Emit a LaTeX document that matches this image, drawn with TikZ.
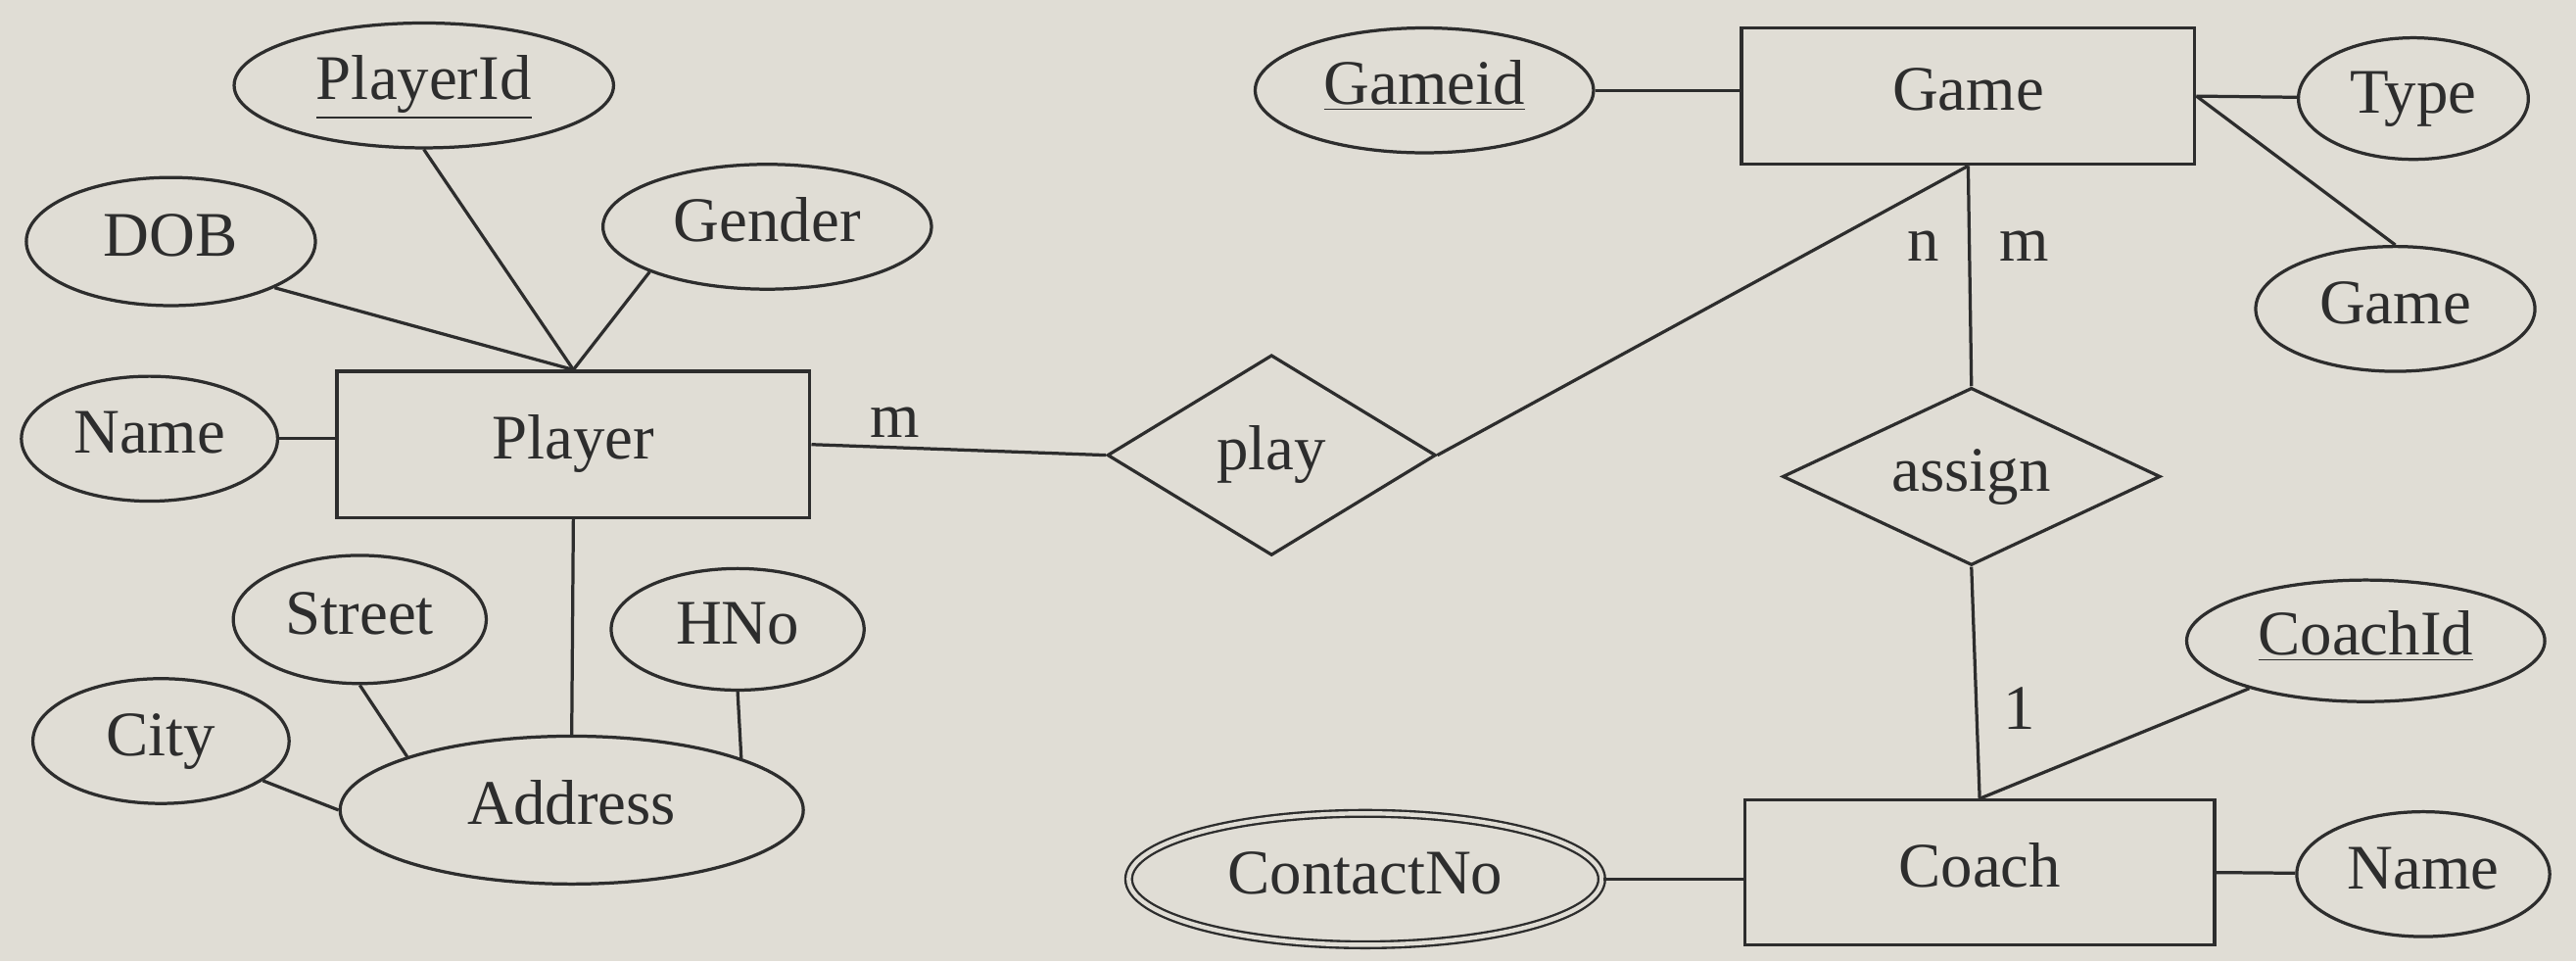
\documentclass[tikz,border=0pt]{standalone}
\usepackage{fontspec}
\setmainfont{Liberation Serif}
\usepackage{tikz}
\usetikzlibrary{shapes.geometric,positioning}
\definecolor{paper}{RGB}{224,221,213}
\definecolor{ink}{RGB}{45,45,45}
\tikzstyle{ent} = [rectangle, draw, inner sep=0pt, text height=14pt, text depth=4pt]
\tikzstyle{att} = [ellipse, draw, inner sep=0pt, text height=14pt, text depth=4pt]
\tikzstyle{mva} = [att, double=paper, double distance=1.5pt, line width=0.8pt]
\tikzstyle{rls} = [diamond, draw, aspect=2, inner sep=0pt, text height=14pt, text depth=4pt]
\tikzstyle{card} = [inner sep=0pt]

\begin{document}
\begin{tikzpicture}[x=0.02cm, y=-0.02cm, color=ink, line width=1.1pt, font=\fontsize{22}{26}\selectfont]
\fill[paper] (0,0) rectangle (1568,585);
% player side
\node(P)[ent, minimum width=5.76cm, minimum height=1.78cm] at (349,270.5) {Player};
\node(PI)[att, minimum width=4.62cm, minimum height=1.52cm] at (258,52) {\underline{PlayerId}};
\node(D)[att, minimum width=3.52cm, minimum height=1.56cm] at (104,147) {DOB};
\node(GE)[att, minimum width=4cm, minimum height=1.52cm] at (467,138) {Gender};
\node(N1)[att, minimum width=3.12cm, minimum height=1.52cm] at (91,267) {Name};
\node(AD)[att, minimum width=5.64cm, minimum height=1.8cm] at (348,493) {Address};
\node(S)[att, minimum width=3.08cm, minimum height=1.56cm] at (219,377) {Street};
\node(H)[att, minimum width=3.08cm, minimum height=1.48cm] at (449,383) {HNo};
\node(CI)[att, minimum width=3.12cm, minimum height=1.52cm] at (98,451) {City};
\node(PL)[rls, minimum width=4cm, minimum height=2.44cm] at (774,277) {play};
% game side
\node(G)[ent, minimum width=5.52cm, minimum height=1.66cm] at (1198,58.5) {Game};
\node(GI)[att, minimum width=4.12cm, minimum height=1.52cm] at (867,55) {\underline{Gameid}};
\node(T)[att, minimum width=2.8cm, minimum height=1.48cm] at (1469,60) {Type};
\node(GA)[att, minimum width=3.4cm, minimum height=1.52cm] at (1458,188) {Game};
\node(AS)[rls, minimum width=4.6cm, minimum height=2.16cm] at (1200,290) {assign};
% coach side
\node(C)[ent, minimum width=5.72cm, minimum height=1.76cm] at (1205,531) {Coach};
\node(CO)[att, minimum width=4.36cm, minimum height=1.48cm] at (1440,390) {\underline{CoachId}};
\node(CN)[mva, minimum width=5.76cm, minimum height=1.6cm] at (831,535) {ContactNo};
\node(N2)[att, minimum width=3.08cm, minimum height=1.52cm] at (1475,532) {Name};
% cardinalities
\node(m1)[card] at (545,257) {m};
\node(n2)[card] at (1171,150) {n};
\node(m2)[card] at (1232,150) {m};
\node(o1)[card] at (1229,431) {1};

\draw(PI.south)--(P.north);
\draw(D.336)--(P.north);
\draw(GE.201)--(P.north);
\draw(N1.east)--(N1.east -| P.west);
\draw(P.south)--(AD.north);
\draw(S.south)--(AD.162);
\draw(H.south)--(AD.17);
\draw(CI)--(AD.west);
\draw(P.east)--(PL.west);
\draw(PL.east)--(G.south);
\draw(GI.east)--(GI.east -| G.west);
\draw(G.east)--(T);
\draw(G.east)--(GA.north);
\draw(G.south)--(AS.north);
\draw(AS.south)--(C.north);
\draw(CO)--(C.north);
\draw(CN.east)--(CN.east -| C.west);
\draw(C.east)--(N2);
\end{tikzpicture}
\end{document}
